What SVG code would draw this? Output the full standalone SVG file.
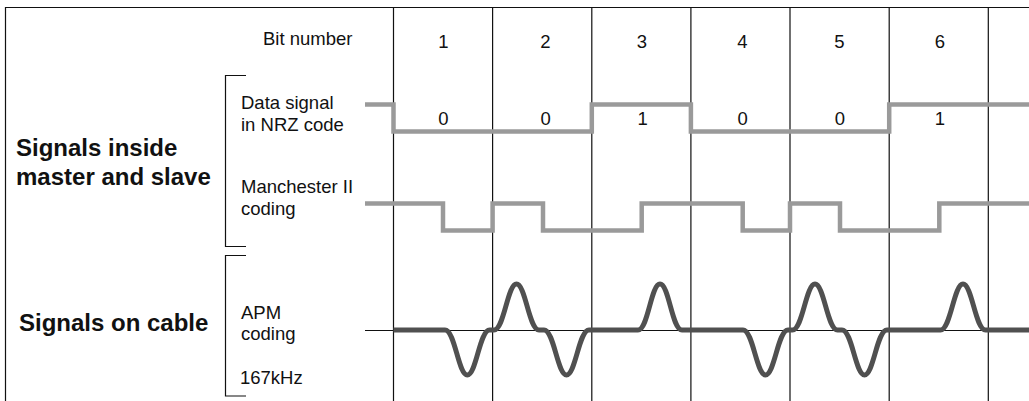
<svg xmlns="http://www.w3.org/2000/svg" width="1029" height="401" viewBox="0 0 1029 401">
<style>
text{font-family:"Liberation Sans",Arial,Helvetica,sans-serif;font-size:18.5px;fill:#111}
.b{font-weight:bold;font-size:24px}
.c{text-anchor:middle}
.thin{fill:none;stroke:#111;stroke-width:1.2}
.sig{fill:none;stroke:#9a9a9a;stroke-width:4.5;stroke-linejoin:miter;stroke-linecap:butt}
.apm{fill:none;stroke:#505050;stroke-width:5;stroke-linejoin:round;stroke-linecap:butt}
</style>
<rect width="1029" height="401" fill="#fff"/>
<g id="frame">
<path class="thin" d="M5.5,401 V7.5 H1029"/>
<path class="thin" d="M393.5,7.5 V401 M492.6,7.5 V401 M591.8,7.5 V401 M690.9,7.5 V401 M790,7.5 V401 M889.2,7.5 V401 M988.3,7.5 V401"/>
</g>
<g id="bit-numbers">
<text x="263" y="45">Bit number</text>
<text class="c" x="443.3" y="47.5">1</text>
<text class="c" x="545.5" y="47.5">2</text>
<text class="c" x="642" y="47.5">3</text>
<text class="c" x="742.5" y="47.5">4</text>
<text class="c" x="839.5" y="47.5">5</text>
<text class="c" x="940" y="47.5">6</text>
</g>
<g id="group-inside">
<path class="thin" d="M246,75.5 H225.5 V246.5 H246"/>
<text class="b" x="16" y="156">Signals inside</text>
<text class="b" x="16" y="185">master and slave</text>
</g>
<g id="group-cable">
<path class="thin" d="M246,255.5 H225.5 V396 H246"/>
<text class="b" x="19" y="331">Signals on cable</text>
</g>
<g id="nrz">
<text x="241" y="108.5">Data signal</text>
<text x="241" y="130.5">in NRZ code</text>
<path class="sig" d="M365,104.5 H393.5 V131.5 H591.8 V104.5 H690.9 V131.5 H889.2 V104.5 H1029"/>
<text class="c" x="443.3" y="125">0</text>
<text class="c" x="545.7" y="125">0</text>
<text class="c" x="642.7" y="125">1</text>
<text class="c" x="742.7" y="125">0</text>
<text class="c" x="840" y="125">0</text>
<text class="c" x="940" y="125">1</text>
</g>
<g id="manchester">
<text x="241" y="193">Manchester II</text>
<text x="241" y="215">coding</text>
<path class="sig" d="M365,203.5 H443 V230.5 H492.6 V203.5 H543 V230.5 H641.7 V203.5 H742.7 V230.5 H790 V203.5 H840 V230.5 H939.3 V203.5 H1029"/>
</g>
<g id="apm">
<text x="241" y="318.5">APM</text>
<text x="241" y="340">coding</text>
<text x="240" y="383.5">167kHz</text>
<path class="thin" d="M365,330.5 H1029"/>
<path class="apm" d="M393.5,330 H445
C455,330 458.3,375 467.3,375 C476.3,375 479.6,330 489.6,330 H494
C504,330 507.5,284 516.5,284 C525.5,284 529,330 539,330 H544
C554,330 557.5,375 566.5,375 C575.5,375 579,330 589,330 H638
C648,330 651,284 660,284 C669,284 672,330 682,330 H743
C753,330 756.5,375 765.5,375 C774.5,375 778,330 788,330 H792.5
C802.5,330 806,284 815,284 C824,284 827.5,330 837.5,330 H842
C852,330 855.5,375 864.5,375 C873.5,375 877,330 887,330 H940.5
C950.5,330 954,284 963,284 C972,284 975.5,330 985.5,330 H1029"/>
</g>
</svg>
